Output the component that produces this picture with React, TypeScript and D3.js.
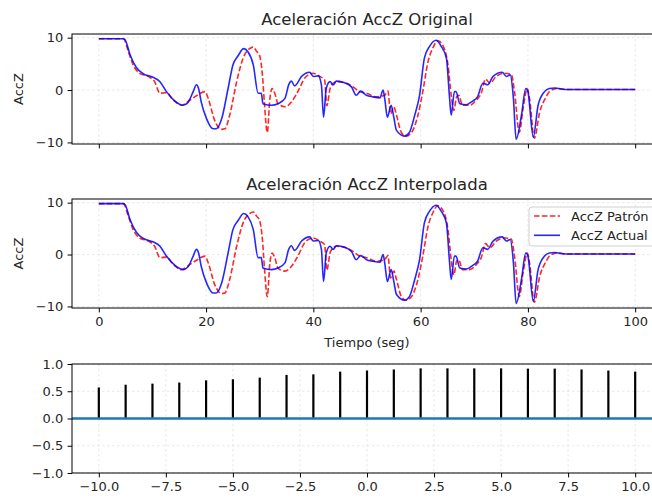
import React, { useEffect, useRef } from 'react';
import * as d3 from 'd3';

// AccZ Actual (blue, solid)
const actualTime = [0, 4.5, 4.9, 5.8, 7.0, 8.3, 10.1, 11.4, 12.6, 14.2, 15.7, 16.6, 17.6, 18.2, 18.6, 19.1, 20.1, 21.3, 21.9, 22.9, 24.1, 25.0, 26.0, 27.0, 27.8, 28.8, 29.7, 30.3, 30.6, 32.2, 33.4, 34.7, 35.4, 35.9, 36.5, 37.8, 39.3, 40.0, 40.9, 41.5, 41.9, 42.4, 43.1, 43.7, 44.3, 45.5, 47.1, 48.0, 48.8, 49.9, 51.1, 52.4, 53.0, 53.3, 53.8, 54.5, 55.0, 55.5, 57.0, 57.9, 58.9, 59.8, 60.7, 61.7, 62.9, 63.8, 64.8, 65.4, 65.7, 66.3, 66.6, 67.3, 68.5, 69.7, 70.6, 71.6, 72.5, 73.5, 75.2, 76.0, 76.7, 77.3, 77.8, 78.8, 79.6, 80.0, 81.0, 81.9, 83.1, 84.0, 85.0, 87.0, 100];
const actualAccZ = [9.8, 9.8, 9.6, 6.8, 4.3, 3.1, 2.45, 1.6, -0.3, -2.1, -2.9, -2.4, -0.3, 1.0, 0.3, -2.3, -5.5, -7.4, -7.4, -5.5, 0.3, 4.8, 6.6, 7.9, 7.3, 4.8, -0.6, -0.6, -2.6, -2.9, -2.6, -1.6, 1.0, 1.7, 0.8, 2.6, 3.4, 2.6, 2.7, 1.0, -5.2, 0.3, 1.6, 1.0, 1.7, 1.5, 0.6, -1.0, -0.2, -1.0, -1.3, -1.5, 0.0, -1.6, -5.2, -2.9, -5.2, -7.7, -8.8, -8.1, -4.8, -1.0, 6.1, 8.4, 9.5, 8.4, 6.1, -1.6, -4.8, -0.3, -0.3, -2.6, -2.8, -2.1, -1.3, 1.3, 1.0, 2.6, 3.4, 2.6, 2.9, -1.6, -9.4, -4.8, 0.3, -0.3, -9.0, -2.9, -0.3, 0.3, 0.4, 0.1, 0.1];

// AccZ Patrón (red, dashed)
const patronTime = [0, 4.6, 5.5, 6.4, 7.6, 9.2, 10.4, 11.4, 12.6, 13.9, 15.4, 17.0, 18.2, 19.8, 20.4, 21.6, 22.9, 23.5, 24.4, 25.7, 26.9, 28.1, 28.8, 29.4, 30.0, 30.5, 30.9, 31.4, 31.9, 32.3, 32.8, 33.4, 34.7, 35.9, 37.1, 38.4, 39.9, 41.2, 42.1, 42.5, 43.2, 44.3, 46.2, 47.4, 48.6, 49.9, 51.7, 53.3, 53.9, 54.4, 55.0, 55.5, 56.4, 57.3, 58.3, 59.5, 60.4, 61.4, 62.3, 63.2, 64.2, 65.1, 65.7, 66.2, 66.7, 67.1, 67.8, 69.1, 70.4, 71.3, 72.1, 72.9, 74.1, 75.7, 76.9, 77.5, 78.4, 79.1, 79.9, 80.3, 81.2, 82.2, 83.4, 84.0, 85.5, 87.0, 100];
const patronAccZ = [9.8, 9.8, 7.4, 4.8, 3.2, 2.6, 1.6, -0.6, -0.5, -1.9, -2.9, -1.9, -1.1, -0.3, -1.6, -5.8, -7.5, -7.4, -4.8, 1.6, 6.1, 7.9, 8.2, 7.4, 6.5, 2.9, -2.9, -8.1, -1.6, 0.3, -0.6, -2.6, -3.2, -2.3, -0.3, 2.3, 3.2, 2.6, 1.9, -3.0, 0.6, 1.6, 1.3, 0.6, -0.3, -0.6, -1.3, -1.0, -0.2, -4.5, -3.2, -4.8, -8.1, -8.8, -8.1, -4.8, -0.3, 5.5, 8.1, 9.4, 8.4, 4.8, -1.0, -3.9, -1.3, -1.0, -2.9, -2.9, -1.9, -0.6, 2.1, 1.3, 2.6, 3.2, 3.0, -0.3, -8.1, -3.5, 0.3, -1.6, -9.2, -4.2, -1.3, -0.3, 0.3, 0.1, 0.1];

// correlation stems
const lags = [-10, -9, -8, -7, -6, -5, -4, -3, -2, -1, 0, 1, 2, 3, 4, 5, 6, 7, 8, 9, 10];
const corr = [0.57, 0.62, 0.64, 0.66, 0.70, 0.72, 0.75, 0.80, 0.81, 0.86, 0.88, 0.90, 0.92, 0.92, 0.92, 0.92, 0.915, 0.915, 0.90, 0.88, 0.86];

const timeTicks = [0, 20, 40, 60, 80, 100];
const accTicks = [-10, 0, 10];
const lagTicks = [-10, -7.5, -5, -2.5, 0, 2.5, 5, 7.5, 10];
const corrTicks = [-1, -0.5, 0, 0.5, 1];

const FONT = "'DejaVu Sans', sans-serif";
const SMALL = "13px";

export default function App() {
  const svgRef = useRef<SVGSVGElement>(null);

  useEffect(() => {
    if (!svgRef.current) return;
    const svg = d3.select(svgRef.current);
    svg.selectAll("*").remove();

    const left = 72, right = 662;
    const tickLen = 4.4;

    const grid = (g: any, x: any, y: any, xt: number[], yt: number[], top: number, bottom: number) => {
      g.append("g").selectAll("line").data(xt).join("line")
        .attr("x1", (d: number) => x(d)).attr("x2", (d: number) => x(d))
        .attr("y1", top).attr("y2", bottom)
        .attr("stroke", "#e2e2e2").attr("stroke-width", 0.8).attr("stroke-dasharray", "2.5,2.5");
      g.append("g").selectAll("line").data(yt).join("line")
        .attr("x1", left).attr("x2", right)
        .attr("y1", (d: number) => y(d)).attr("y2", (d: number) => y(d))
        .attr("stroke", "#e2e2e2").attr("stroke-width", 0.8).attr("stroke-dasharray", "2.5,2.5");
    };

    const styleAxis = (g: any) => {
      g.select(".domain").remove();
      g.selectAll("line").attr("stroke", "#000").attr("stroke-width", 1);
      g.selectAll("text").attr("font-family", FONT).attr("font-size", SMALL).attr("fill", "#262626");
    };

    const accPanel = (top: number, bottom: number, title: string, xLabels: boolean, legend: boolean) => {
      const x = d3.scaleLinear().domain([-5, 105]).range([left, right]);
      const y = d3.scaleLinear().domain([-10.3, 10.7]).range([bottom, top]);
      const g = svg.append("g");

      grid(g, x, y, timeTicks, accTicks, top, bottom);

      const line = d3.line<[number, number]>()
        .x(d => x(d[0])).y(d => y(d[1]))
        .curve(d3.curveMonotoneX);

      g.append("path")
        .datum(patronTime.map((t, i) => [t, patronAccZ[i]] as [number, number]))
        .attr("d", line).attr("fill", "none")
        .attr("stroke", "#ff0000").attr("stroke-width", 1.6).attr("stroke-opacity", 0.85)
        .attr("stroke-dasharray", "5.5,2.4");

      g.append("path")
        .datum(actualTime.map((t, i) => [t, actualAccZ[i]] as [number, number]))
        .attr("d", line).attr("fill", "none")
        .attr("stroke", "#0000ff").attr("stroke-width", 1.6).attr("stroke-opacity", 0.85);

      g.append("rect").attr("x", left).attr("y", top)
        .attr("width", right - left).attr("height", bottom - top)
        .attr("fill", "none").attr("stroke", "#000").attr("stroke-width", 1);

      g.append("g").attr("transform", `translate(${left},0)`)
        .call(d3.axisLeft(y).tickValues(accTicks).tickSize(tickLen).tickPadding(4.4).tickFormat(d3.format("d")))
        .call(styleAxis);

      g.append("g").attr("transform", `translate(0,${bottom})`)
        .call(d3.axisBottom(x).tickValues(timeTicks).tickSize(tickLen).tickPadding(4.4)
          .tickFormat(xLabels ? d3.format("d") : () => ""))
        .call(styleAxis);

      g.append("text")
        .attr("x", (left + right) / 2).attr("y", top - 9)
        .attr("text-anchor", "middle").attr("font-family", FONT).attr("font-size", "16.5px").attr("fill", "#262626")
        .text(title);

      g.append("text")
        .attr("transform", `translate(23,${(top + bottom) / 2}) rotate(-90)`)
        .attr("text-anchor", "middle").attr("font-family", FONT).attr("font-size", SMALL).attr("fill", "#262626")
        .text("AccZ");

      if (xLabels) {
        g.append("text")
          .attr("x", (left + right) / 2).attr("y", bottom + 39)
          .attr("text-anchor", "middle").attr("font-family", FONT).attr("font-size", SMALL).attr("fill", "#262626")
          .text("Tiempo (seg)");
      }

      if (legend) {
        const lx = 529, ly = top + 8;
        const lg = g.append("g").attr("transform", `translate(${lx},${ly})`);
        lg.append("rect").attr("x", 0).attr("y", 0).attr("width", 128).attr("height", 39).attr("rx", 3)
          .attr("fill", "#fff").attr("fill-opacity", 0.8).attr("stroke", "#d0d0d0").attr("stroke-width", 1);
        const items = [
          { label: "AccZ Patrón", color: "#ff0000", dash: "5.5,2.4" },
          { label: "AccZ Actual", color: "#0000ff", dash: null },
        ];
        items.forEach((it, i) => {
          const yy = 9 + i * 19.3;
          lg.append("line").attr("x1", 5).attr("x2", 31).attr("y1", yy).attr("y2", yy)
            .attr("stroke", it.color).attr("stroke-width", 1.6).attr("stroke-opacity", 0.85)
            .attr("stroke-dasharray", it.dash);
          lg.append("text").attr("x", 42).attr("y", yy + 4.5)
            .attr("font-family", FONT).attr("font-size", SMALL).attr("fill", "#262626")
            .text(it.label);
        });
      }
    };

    accPanel(34, 144, "Aceleración AccZ Original", false, false);
    accPanel(199, 308, "Aceleración AccZ Interpolada", true, true);

    // correlation panel
    const top3 = 364, bottom3 = 473;
    const x3 = d3.scaleLinear().domain([-11, 11]).range([left, right]);
    const y3 = d3.scaleLinear().domain([-1, 1]).range([bottom3, top3]);
    const g3 = svg.append("g");
    grid(g3, x3, y3, lagTicks, corrTicks, top3, bottom3);

    g3.append("g").selectAll("line").data(lags).join("line")
      .attr("x1", d => x3(d)).attr("x2", d => x3(d))
      .attr("y1", y3(0)).attr("y2", (d, i) => y3(corr[i]))
      .attr("stroke", "#000").attr("stroke-width", 2.2);

    g3.append("line")
      .attr("x1", left).attr("x2", right)
      .attr("y1", y3(0)).attr("y2", y3(0))
      .attr("stroke", "#1f77b4").attr("stroke-width", 2.4);

    g3.append("rect").attr("x", left).attr("y", top3)
      .attr("width", right - left).attr("height", bottom3 - top3)
      .attr("fill", "none").attr("stroke", "#000").attr("stroke-width", 1);

    g3.append("g").attr("transform", `translate(${left},0)`)
      .call(d3.axisLeft(y3).tickValues(corrTicks).tickSize(tickLen).tickPadding(4.4).tickFormat(d3.format(".1f")))
      .call(styleAxis);

    g3.append("g").attr("transform", `translate(0,${bottom3})`)
      .call(d3.axisBottom(x3).tickValues(lagTicks).tickSize(tickLen).tickPadding(4.4).tickFormat(d3.format(".1f")))
      .call(styleAxis);
  }, []);

  return (
    <div style={{ position: "absolute", left: 0, top: 0 }}>
      <svg ref={svgRef} width={652} height={499} style={{ display: "block", background: "#fff" }} />
    </div>
  );
}
